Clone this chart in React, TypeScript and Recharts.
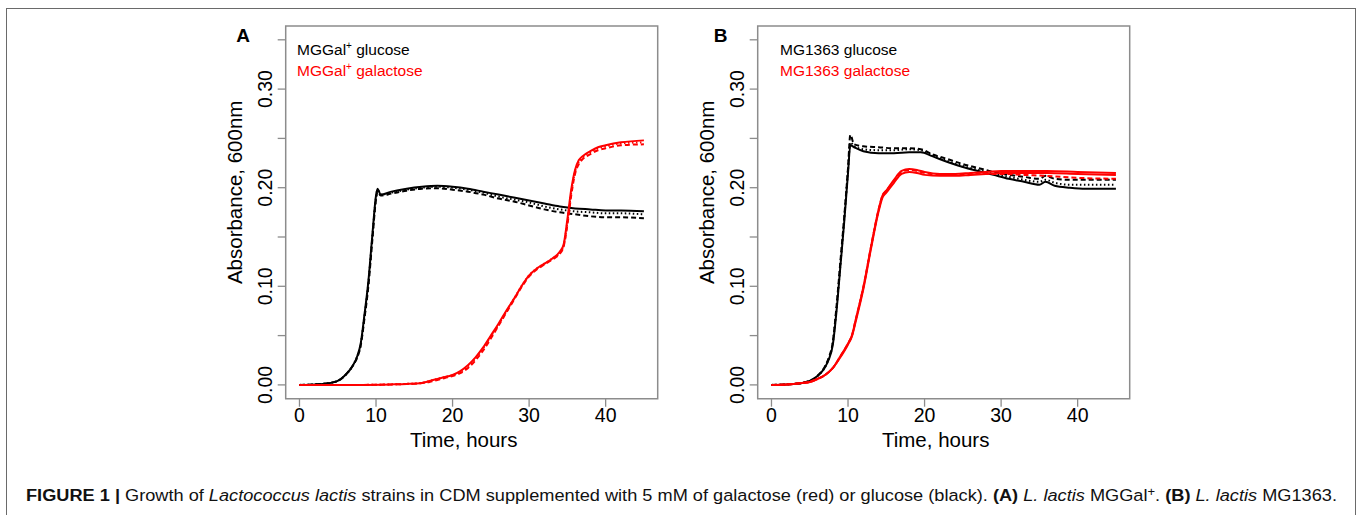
import React from 'react';
import { LineChart, Line, XAxis, YAxis, ReferenceArea, Label } from 'recharts';

// ---------- Data ----------
const xTicks = [0, 10, 20, 30, 40];
const yTicks = [0, 0.05, 0.1, 0.15, 0.2, 0.25, 0.3, 0.35];
const yLabeled = [0, 0.1, 0.2, 0.3];

// Panel A: MGGal+ glucose (black)
const timeAglc = [0, 2, 3, 4, 5, 6, 7, 7.5, 8, 8.5, 9, 9.5, 10, 10.2, 10.6, 12, 14, 16, 18, 20, 22, 24, 26, 28, 30, 32, 34, 36, 38, 40, 42, 45];
const aGlcSolid = [0, 0.0005, 0.001, 0.002, 0.004, 0.01, 0.02, 0.028, 0.042, 0.072, 0.105, 0.15, 0.192, 0.199, 0.193, 0.196, 0.199, 0.201, 0.202, 0.201, 0.199, 0.196, 0.193, 0.19, 0.187, 0.184, 0.181, 0.179, 0.178, 0.177, 0.177, 0.176];
const aGlcDashed = [0, 0.0005, 0.001, 0.002, 0.004, 0.01, 0.02, 0.027, 0.04, 0.068, 0.1, 0.145, 0.188, 0.196, 0.192, 0.194, 0.197, 0.199, 0.1995, 0.198, 0.196, 0.193, 0.189, 0.186, 0.182, 0.178, 0.175, 0.173, 0.171, 0.17, 0.17, 0.169];
const aGlcDotted = [0, 0.0005, 0.001, 0.002, 0.004, 0.01, 0.02, 0.028, 0.041, 0.07, 0.103, 0.148, 0.19, 0.198, 0.193, 0.195, 0.198, 0.2, 0.201, 0.2, 0.198, 0.195, 0.191, 0.188, 0.185, 0.181, 0.178, 0.176, 0.175, 0.174, 0.174, 0.173];

// Panel A: MGGal+ galactose (red)
const timeAgal = [0, 4, 8, 12, 14, 16, 17, 18, 19, 20, 21, 22, 23, 24, 25, 26, 27, 28, 29, 30, 31, 32, 33, 34, 34.5, 35, 35.5, 36, 36.5, 37, 38, 39, 40, 42, 45];
const aGalSolid = [0, 0, 0, 0.0005, 0.001, 0.002, 0.004, 0.006, 0.008, 0.01, 0.014, 0.02, 0.028, 0.038, 0.05, 0.062, 0.075, 0.087, 0.1, 0.111, 0.118, 0.123, 0.128, 0.135, 0.142, 0.168, 0.198, 0.218, 0.228, 0.232, 0.237, 0.241, 0.243, 0.246, 0.248];
const aGalDashed = [0, 0, 0, 0.0005, 0.001, 0.002, 0.003, 0.005, 0.007, 0.009, 0.012, 0.017, 0.025, 0.035, 0.047, 0.06, 0.073, 0.086, 0.099, 0.11, 0.117, 0.122, 0.127, 0.133, 0.14, 0.162, 0.192, 0.214, 0.224, 0.229, 0.234, 0.238, 0.24, 0.243, 0.244];
const aGalDotted = [0, 0, 0, 0.0005, 0.001, 0.002, 0.004, 0.006, 0.008, 0.01, 0.013, 0.019, 0.027, 0.037, 0.049, 0.061, 0.074, 0.087, 0.1, 0.111, 0.118, 0.123, 0.128, 0.134, 0.141, 0.165, 0.195, 0.216, 0.226, 0.231, 0.236, 0.24, 0.242, 0.245, 0.246];

// Panel B: MG1363 glucose (black)
const timeBglc = [0, 2, 4, 5, 6, 7, 7.5, 8, 8.5, 9, 9.5, 10, 10.3, 10.8, 12, 14, 16, 18, 19.5, 21, 23, 25, 27, 29, 31, 33, 35, 35.8, 37, 39, 41, 43, 45];
const bGlcSolid = [0, 0.0005, 0.002, 0.004, 0.009, 0.018, 0.026, 0.04, 0.075, 0.12, 0.165, 0.215, 0.243, 0.241, 0.237, 0.235, 0.235, 0.236, 0.236, 0.232, 0.226, 0.221, 0.217, 0.213, 0.209, 0.206, 0.203, 0.206, 0.202, 0.2, 0.199, 0.199, 0.199];
const bGlcDashed = [0, 0.0005, 0.002, 0.004, 0.009, 0.019, 0.028, 0.043, 0.08, 0.125, 0.17, 0.22, 0.2535, 0.244, 0.242, 0.241, 0.24, 0.24, 0.239, 0.234, 0.229, 0.224, 0.22, 0.216, 0.213, 0.211, 0.209, 0.212, 0.209, 0.208, 0.208, 0.208, 0.208];
const bGlcDotted = [0, 0.0005, 0.002, 0.004, 0.009, 0.018, 0.027, 0.042, 0.078, 0.122, 0.168, 0.218, 0.246, 0.242, 0.239, 0.238, 0.238, 0.239, 0.238, 0.233, 0.227, 0.222, 0.218, 0.214, 0.211, 0.208, 0.206, 0.208, 0.205, 0.203, 0.203, 0.203, 0.203];

// Panel B: MG1363 galactose (red)
const timeBgal = [0, 2, 4, 5, 6, 7, 8, 9, 10, 10.5, 11, 11.5, 12, 13, 14, 14.5, 15, 16, 17, 18, 19, 20, 22, 24, 26, 28, 30, 33, 36, 40, 45];
const bGalSolid1 = [0, 0.0005, 0.002, 0.003, 0.006, 0.01, 0.017, 0.029, 0.042, 0.05, 0.066, 0.082, 0.099, 0.14, 0.178, 0.192, 0.197, 0.208, 0.217, 0.219, 0.218, 0.216, 0.214, 0.214, 0.215, 0.216, 0.217, 0.217, 0.217, 0.216, 0.2148];
const bGalSolid2 = [0, 0.0005, 0.002, 0.003, 0.006, 0.01, 0.017, 0.028, 0.041, 0.049, 0.064, 0.08, 0.097, 0.138, 0.176, 0.19, 0.195, 0.205, 0.214, 0.216, 0.215, 0.213, 0.212, 0.212, 0.213, 0.214, 0.215, 0.215, 0.215, 0.214, 0.213];
const bGalDashed = [0, 0.0005, 0.002, 0.003, 0.006, 0.01, 0.017, 0.029, 0.042, 0.05, 0.066, 0.082, 0.099, 0.14, 0.178, 0.192, 0.197, 0.207, 0.216, 0.218, 0.217, 0.215, 0.213, 0.213, 0.214, 0.214, 0.214, 0.213, 0.212, 0.21, 0.209];

// ---------- Helpers ----------
const toRows = (t: number[], v: number[]) => t.map((x, i) => ({ t: x, v: v[i] }));

const X_DOMAIN: [number, number] = [-1.8, 46.8];
const Y_DOMAIN: [number, number] = [-0.014, 0.364];
const FONT = '"Liberation Sans", Arial, Helvetica, sans-serif';
const BOX = '#8c8c8c';
const RED = '#ff0000';
const DASH = '5 3';
const DOT = '1.5 2.5';

const XTick = (props: any) => {
  const { x, y, payload } = props;
  return (
    <text x={x} y={y} textAnchor="middle" dominantBaseline="central" fontFamily={FONT} fontSize={19.5} fill="#000">
      {payload.value}
    </text>
  );
};

const YTick = (props: any) => {
  const { x, y, payload } = props;
  const v = Math.round(payload.value * 100) / 100;
  if (!yLabeled.some((l) => Math.abs(l - v) < 1e-6)) return <g />;
  return (
    <text
      x={x}
      y={y}
      transform={`rotate(-90 ${x} ${y})`}
      textAnchor="middle"
      dominantBaseline="central"
      fontFamily={FONT}
      fontSize={19.5}
      fill="#000"
    >
      {v.toFixed(2)}
    </text>
  );
};

const YTitle = (props: any) => {
  const vb = props.viewBox || {};
  const cx = vb.x + vb.width - 51;
  const cy = vb.y + vb.height / 2 - 20;
  return (
    <text
      x={cx}
      y={cy}
      transform={`rotate(-90 ${cx} ${cy})`}
      textAnchor="middle"
      dominantBaseline="central"
      fontFamily={FONT}
      fontSize={20.5}
      fill="#000"
    >
      Absorbance, 600nm
    </text>
  );
};

const XTitle = (props: any) => {
  const vb = props.viewBox || {};
  const cx = vb.x + vb.width / 2 - 8;
  const cy = vb.y + 40.6;
  return (
    <text x={cx} y={cy} textAnchor="middle" dominantBaseline="central" fontFamily={FONT} fontSize={20.5} fill="#000">
      Time, hours
    </text>
  );
};

type Series = { data: { t: number; v: number }[]; color: string; dash?: string };

const Panel = ({ left, series }: { left: number; series: Series[] }) => (
  <div style={{ position: 'absolute', left, top: 0 }}>
    <LineChart width={480} height={470} margin={{ top: 26, right: 22.3, bottom: 0, left: 0 }}>
      <XAxis
        type="number"
        dataKey="t"
        domain={X_DOMAIN}
        ticks={xTicks}
        allowDataOverflow
        axisLine={false}
        tickLine={{ stroke: BOX, strokeWidth: 1.3 }}
        tickSize={8}
        tickMargin={8}
        tick={<XTick />}
        height={71.3}
        label={<Label content={<XTitle />} />}
      />
      <YAxis
        type="number"
        dataKey="v"
        domain={Y_DOMAIN}
        ticks={yTicks}
        allowDataOverflow
        axisLine={false}
        tickLine={{ stroke: BOX, strokeWidth: 1.3 }}
        tickSize={8}
        tickMargin={13}
        tick={<YTick />}
        width={85.7}
        label={<Label content={<YTitle />} />}
      />
      {series.map((s, i) => (
        <Line
          key={i}
          data={s.data}
          dataKey="v"
          type="monotone"
          stroke={s.color}
          strokeWidth={2}
          strokeDasharray={s.dash}
          dot={false}
          activeDot={false}
          isAnimationActive={false}
        />
      ))}
      <ReferenceArea
        x1={X_DOMAIN[0]}
        x2={X_DOMAIN[1]}
        y1={Y_DOMAIN[0]}
        y2={Y_DOMAIN[1]}
        fill="none"
        fillOpacity={0}
        stroke={BOX}
        strokeWidth={1.5}
        ifOverflow="visible"
      />
    </LineChart>
  </div>
);

const seriesA: Series[] = [
  { data: toRows(timeAglc, aGlcDashed), color: '#000', dash: DASH },
  { data: toRows(timeAglc, aGlcDotted), color: '#000', dash: DOT },
  { data: toRows(timeAglc, aGlcSolid), color: '#000' },
  { data: toRows(timeAgal, aGalDashed), color: RED, dash: DASH },
  { data: toRows(timeAgal, aGalDotted), color: RED, dash: DOT },
  { data: toRows(timeAgal, aGalSolid), color: RED },
];

const seriesB: Series[] = [
  { data: toRows(timeBglc, bGlcDashed), color: '#000', dash: DASH },
  { data: toRows(timeBglc, bGlcDotted), color: '#000', dash: DOT },
  { data: toRows(timeBglc, bGlcSolid), color: '#000' },
  { data: toRows(timeBgal, bGalDashed), color: RED, dash: DASH },
  { data: toRows(timeBgal, bGalSolid2), color: RED },
  { data: toRows(timeBgal, bGalSolid1), color: RED },
];

export default function App() {
  return (
    <div
      style={{
        position: 'absolute',
        left: 0,
        top: 0,
        width: 1357,
        height: 515,
        overflow: 'hidden',
        background: '#fff',
        fontFamily: FONT,
      }}
    >
      <div
        style={{
          position: 'absolute',
          left: 6,
          top: 8,
          width: 1348,
          height: 600,
          border: '1.5px solid #6a6a6a',
        }}
      />
      <Panel left={200} series={seriesA} />
      <Panel left={672} series={seriesB} />
      <svg
        width={1357}
        height={515}
        style={{ position: 'absolute', left: 0, top: 0, pointerEvents: 'none' }}
        fontFamily={FONT}
      >
        <text x={243} y={35} textAnchor="middle" dominantBaseline="central" fontWeight="bold" fontSize={19} fill="#000">
          A
        </text>
        <text x={720.5} y={35} textAnchor="middle" dominantBaseline="central" fontWeight="bold" fontSize={19} fill="#000">
          B
        </text>
        <text x={297} y={54.5} fontSize={15.5} fill="#000">
          MGGal<tspan fontSize={10} dy={-6}>+</tspan>
          <tspan dy={6}> glucose</tspan>
        </text>
        <text x={297} y={75.5} fontSize={15.5} fill={RED}>
          MGGal<tspan fontSize={10} dy={-6}>+</tspan>
          <tspan dy={6}> galactose</tspan>
        </text>
        <text x={780} y={54.5} fontSize={15.5} fill="#000">
          MG1363 glucose
        </text>
        <text x={780} y={75.5} fontSize={15.5} fill={RED}>
          MG1363 galactose
        </text>
        <text x={26} y={500.5} fontSize={16.8} fill="#111" textLength={1311} lengthAdjust="spacingAndGlyphs">
          <tspan fontWeight="bold">FIGURE 1 |</tspan>
          <tspan> Growth of </tspan>
          <tspan fontStyle="italic">Lactococcus lactis</tspan>
          <tspan> strains in CDM supplemented with 5 mM of galactose (red) or glucose (black). </tspan>
          <tspan fontWeight="bold">(A)</tspan>
          <tspan> </tspan>
          <tspan fontStyle="italic">L. lactis</tspan>
          <tspan> MGGal</tspan>
          <tspan fontSize={12} dy={-5}>+</tspan>
          <tspan dy={5}>. </tspan>
          <tspan fontWeight="bold">(B)</tspan>
          <tspan> </tspan>
          <tspan fontStyle="italic">L. lactis</tspan>
          <tspan> MG1363.</tspan>
        </text>
      </svg>
    </div>
  );
}
